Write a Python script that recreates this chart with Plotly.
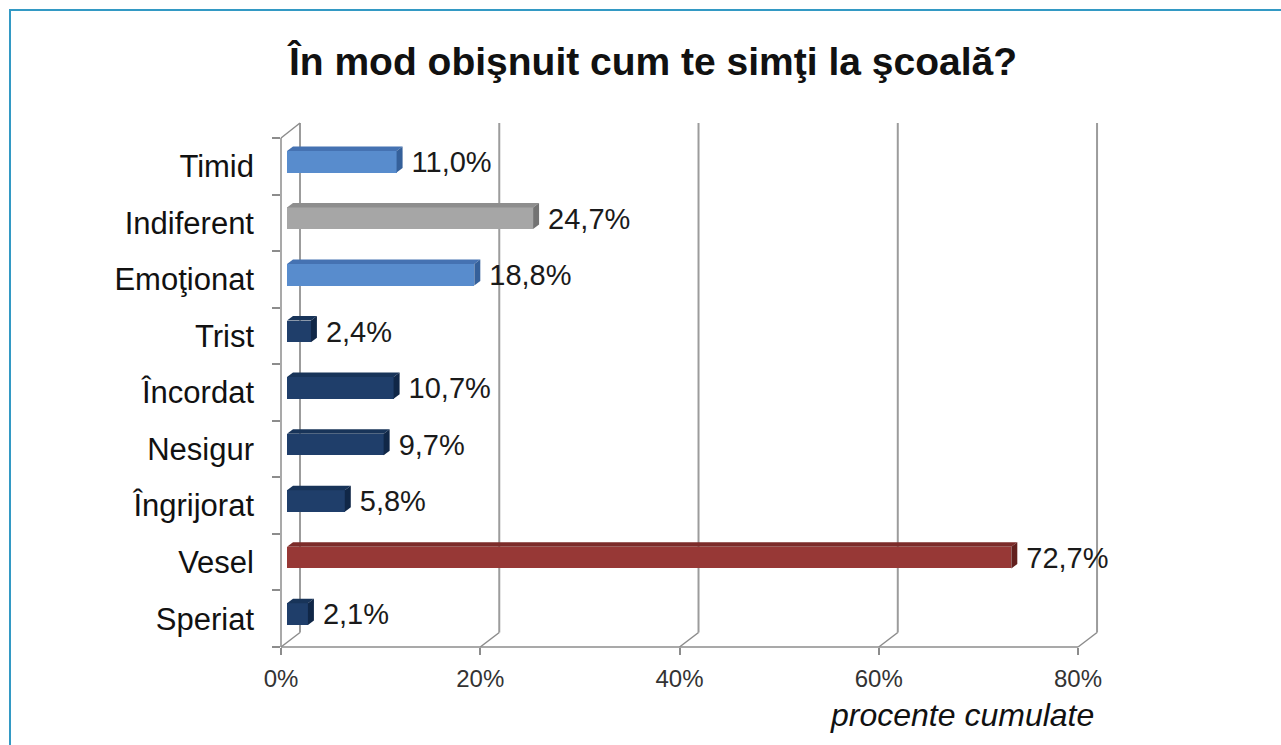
import plotly.graph_objects as go

# ---------------- data ----------------
categories = ["Timid", "Indiferent", "Emoţionat", "Trist", "Încordat",
              "Nesigur", "Îngrijorat", "Vesel", "Speriat"]
values = [11.0, 24.7, 18.8, 2.4, 10.7, 9.7, 5.8, 72.7, 2.1]
value_labels = ["11,0%", "24,7%", "18,8%", "2,4%", "10,7%",
                "9,7%", "5,8%", "72,7%", "2,1%"]
color_groups = ["light", "gray", "light", "dark", "dark",
                "dark", "dark", "red", "dark"]
x_ticks = [0, 20, 40, 60, 80]
x_tick_labels = ["0%", "20%", "40%", "60%", "80%"]
title_text = "În mod obişnuit cum te simţi la şcoală?"
x_title = "procente cumulate"

# ---------------- styling ----------------
PALETTE = {  # front, top, side
    "light": ("#588CCD", "#4572B2", "#35609A"),
    "gray": ("#A6A6A6", "#8E8E8E", "#737373"),
    "dark": ("#1F3E6A", "#183459", "#102747"),
    "red": ("#973836", "#7C2B29", "#62201E"),
}
FONT = "Arial, 'Liberation Sans', sans-serif"
GRID = "#9C9C9C"
AXIS = "#8C8C8C"

W, H = 1281, 745
L, R, T, B = 281, 1110, 123, 647          # plot area in pixels
S = 9.963                                   # pixels per percent
FRONT_TOP = 138
n = len(categories)
K = (B - FRONT_TOP) / n                     # pixels per category
DX, DY = 19.0, 14.5                         # 3D depth of the frame
BAR_START = 6.0                             # bar front plane offset (px)
BAR_SHIFT = DY * BAR_START / DX             # px up
BAR_W = 21.6 / K
BAR_DX, BAR_DY = 6.0 / S, 4.5 / K

pos = [n - 1 - i for i in range(n)]


def pxx(px):
    return (px - L) / (R - L)


def pxy(py):
    return (B - py) / (B - T)


fig = go.Figure()

# empty traces so that the front axes (x/y and x/y2) get drawn
fig.add_trace(go.Scatter(x=[None], y=[None], xaxis="x", yaxis="y",
                         showlegend=False, hoverinfo="skip"))
fig.add_trace(go.Scatter(x=[None], y=[None], xaxis="x", yaxis="y2",
                         showlegend=False, hoverinfo="skip"))

shift_u = BAR_SHIFT / K
for i, (c, v, g, p) in enumerate(zip(categories, values, color_groups, pos)):
    front, top, side = PALETTE[g]
    fig.add_trace(go.Bar(
        y=[p], x=[v], orientation="h", width=BAR_W,
        offset=-BAR_W / 2 + shift_u,
        marker=dict(color=front, line=dict(width=0)),
        xaxis="x2", yaxis="y", showlegend=False, hoverinfo="skip"))
    yb = p + shift_u - BAR_W / 2
    yt = yb + BAR_W
    fig.add_trace(go.Scatter(
        x=[0, v, v + BAR_DX, BAR_DX, 0],
        y=[yt, yt, yt + BAR_DY, yt + BAR_DY, yt],
        fill="toself", fillcolor=top, mode="lines",
        line=dict(width=0, color=top),
        xaxis="x2", yaxis="y", showlegend=False, hoverinfo="skip"))
    fig.add_trace(go.Scatter(
        x=[v, v + BAR_DX, v + BAR_DX, v, v],
        y=[yb, yb + BAR_DY, yt + BAR_DY, yt, yb],
        fill="toself", fillcolor=side, mode="lines",
        line=dict(width=0, color=side),
        xaxis="x2", yaxis="y", showlegend=False, hoverinfo="skip"))

fig.add_trace(go.Scatter(
    x=[v + 15.0 / S for v in values],
    y=[p + shift_u / 3 for p in pos],
    text=value_labels, mode="text", textposition="middle right",
    textfont=dict(family=FONT, size=29, color="#1a1a1a"),
    xaxis="x2", yaxis="y", showlegend=False, hoverinfo="skip"))

# ---------------- frame / gridlines ----------------
shapes = []
line_grid = dict(color=GRID, width=2)
line_axis = dict(color=AXIS, width=1.5)
for v in x_ticks:
    xf = L + S * v
    xb = xf + DX
    shapes.append(dict(type="line", xref="paper", yref="paper", layer="below",
                       x0=pxx(xb), x1=pxx(xb), y0=pxy(B - DY), y1=pxy(T),
                       line=line_grid))
    shapes.append(dict(type="line", xref="paper", yref="paper", layer="below",
                       x0=pxx(xf), x1=pxx(xb), y0=pxy(B), y1=pxy(B - DY),
                       line=line_axis))
shapes.append(dict(type="line", xref="paper", yref="paper", layer="below",
                   x0=pxx(L), x1=pxx(L + S * x_ticks[-1]), y0=pxy(B), y1=pxy(B),
                   line=line_axis))
shapes.append(dict(type="line", xref="paper", yref="paper", layer="below",
                   x0=pxx(L), x1=pxx(L), y0=pxy(B), y1=pxy(FRONT_TOP),
                   line=line_axis))
shapes.append(dict(type="line", xref="paper", yref="paper", layer="below",
                   x0=pxx(L), x1=pxx(L + DX), y0=pxy(FRONT_TOP), y1=pxy(T),
                   line=line_axis))
# outer frame
shapes.append(dict(type="rect", xref="paper", yref="paper", layer="below",
                   x0=pxx(10), x1=pxx(1300), y0=pxy(10), y1=pxy(770),
                   line=dict(color="#3399C4", width=2), fillcolor="rgba(0,0,0,0)"))

fig.update_layout(
    width=W, height=H,
    margin=dict(l=L, r=W - R, t=T, b=H - B, autoexpand=False),
    paper_bgcolor="white", plot_bgcolor="white",
    font=dict(family=FONT, color="#1a1a1a"),
    title=dict(text=f"<b>{title_text}</b>", xref="container", yref="container",
               x=653 / W, xanchor="center", y=1 - 61 / H, yanchor="middle",
               font=dict(family=FONT, size=39, color="#111111")),
    xaxis=dict(range=[0, (R - L) / S], tickvals=x_ticks, ticktext=x_tick_labels,
               ticks="outside", ticklen=7, tickwidth=1.5, tickcolor=AXIS,
               showgrid=False, zeroline=False, showline=False,
               tickfont=dict(family=FONT, size=24, color="#333333"),
               ticklabelstandoff=3, fixedrange=True),
    xaxis2=dict(range=[-BAR_START / S, (R - L - BAR_START) / S],
                overlaying="x", visible=False, fixedrange=True),
    yaxis=dict(range=[-0.5, -0.5 + (B - T) / K], tickvals=pos, ticktext=categories,
               ticks="", showgrid=False, zeroline=False, showline=False,
               tickfont=dict(family=FONT, size=31, color="#111111"),
               ticklabelstandoff=26, fixedrange=True),
    yaxis2=dict(range=[-0.5, -0.5 + (B - T) / K], overlaying="y", anchor="x",
                side="left", tickvals=[k - 0.5 for k in range(n + 1)],
                ticks="outside", ticklen=8, tickwidth=1.5, tickcolor=AXIS,
                showticklabels=False, showgrid=False, zeroline=False,
                showline=False, fixedrange=True),
    shapes=shapes,
    annotations=[dict(text=f"<i>{x_title}</i>", xref="paper", yref="paper",
                      x=pxx(1096), y=pxy(715), xanchor="right", yanchor="middle",
                      showarrow=False,
                      font=dict(family=FONT, size=32, color="#111111"))],
    bargap=0,
)

fig.write_html("out.html", config={"displayModeBar": False},
               post_script="document.body.style.margin='0px';")
